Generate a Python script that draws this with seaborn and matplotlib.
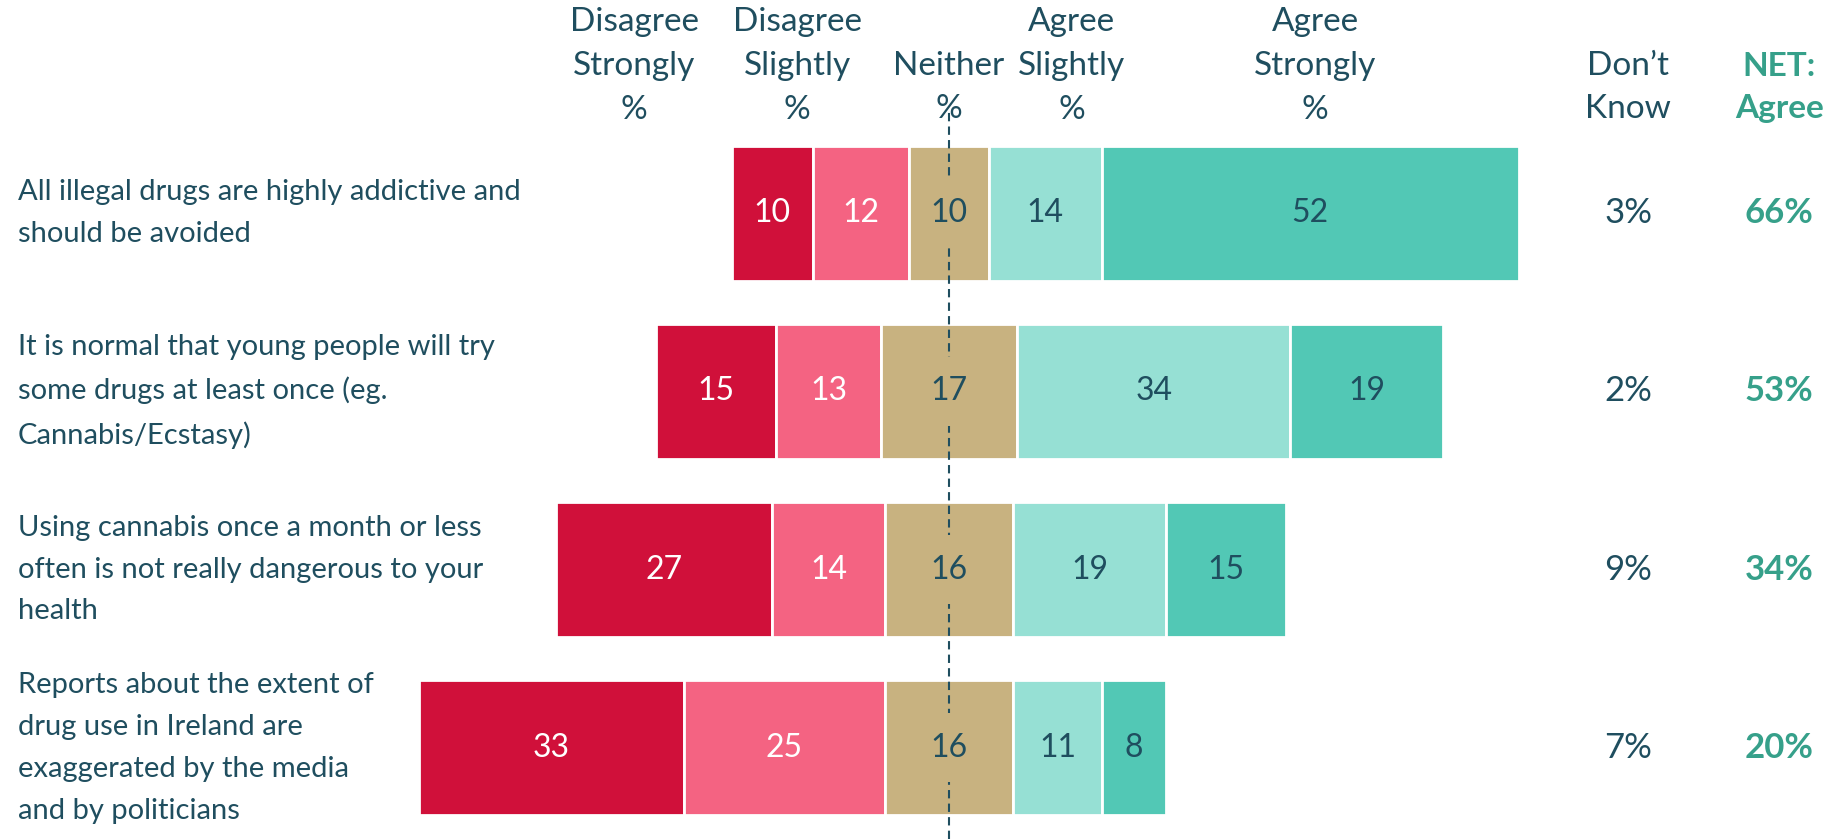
import matplotlib
matplotlib.use('Agg')
import matplotlib.pyplot as plt
import seaborn as sns
import numpy as np

# dados
statements = [
    'All illegal drugs are highly addictive and\nshould be avoided',
    'It is normal that young people will try\nsome drugs at least once (eg.\nCannabis/Ecstasy)',
    'Using cannabis once a month or less\noften is not really dangerous to your\nhealth',
    'Reports about the extent of\ndrug use in Ireland are\nexaggerated by the media\nand by politicians',
]
disagree_strongly = [10, 15, 27, 33]
disagree_slightly = [12, 13, 14, 25]
neither = [10, 17, 16, 16]
agree_slightly = [14, 34, 19, 11]
agree_strongly = [52, 19, 15, 8]
dont_know = [3, 2, 9, 7]
net_agree = [66, 53, 34, 20]

headers = ['Disagree\nStrongly\n%', 'Disagree\nSlightly\n%', 'Neither\n%',
           'Agree\nSlightly\n%', 'Agree\nStrongly\n%']
header_x = [-39.2, -18.9, 0, 15.3, 45.6]

cores = ['#D0103A', '#F46382', '#C8B280', '#96E0D4', '#52C8B5']
cor_texto = '#1F4E5F'
cor_net = '#36A08A'

sns.set_theme(style='white')
plt.rcParams['font.family'] = ['Lato', 'DejaVu Sans']

fig = plt.figure(figsize=(18.41, 8.39), dpi=100)
ax = fig.add_axes([0, 0, 1, 1])

segmentos = np.array([disagree_strongly, disagree_slightly, neither,
                      agree_slightly, agree_strongly], dtype=float)
# barras divergentes centradas no meio do "Neither"
inicio = -(segmentos[0] + segmentos[1] + segmentos[2] / 2)
esquerda = inicio.copy()

for k, valores in enumerate(segmentos):
    sns.barplot(x=valores, y=statements, left=esquerda, color=cores[k], orient='h',
                width=0.757, edgecolor='white', linewidth=2, saturation=1,
                errorbar=None, ax=ax, zorder=2)
    for i, v in enumerate(valores):
        cor = 'white' if k < 2 else cor_texto
        bbox = dict(facecolor=cores[k], edgecolor='none', pad=14) if k == 2 else None
        ax.text(esquerda[i] + v / 2, i, f'{int(v)}', ha='center', va='center',
                fontsize=23, color=cor, zorder=5, bbox=bbox)
    esquerda = esquerda + valores

# linha tracejada central
ax.axvline(0, ymin=0, ymax=0.866, color=cor_texto, lw=1.5,
           linestyle=(0, (4, 2.5)), zorder=4)

ax.set_xlim(-118.2, 111.1)
ax.set_ylim(3.511, -1.195)
ax.axis('off')

# rotulos da esquerda
for i, s in enumerate(statements):
    ax.text(-116, i, s, ha='left', va='center', fontsize=21, color=cor_texto,
            linespacing=1.75)

# cabecalhos
for h, x in zip(headers, header_x):
    y = -0.704 if h.count('\n') == 1 else -0.824
    ax.text(x, y, h, ha='center', va='center', fontsize=24, color=cor_texto,
            linespacing=1.58)
ax.text(84.6, -0.704, 'Don\u2019t\nKnow', ha='center', va='center', fontsize=24,
        color=cor_texto, linespacing=1.58)
ax.text(103.4, -0.704, 'NET:\nAgree', ha='center', va='center', fontsize=24,
        color=cor_net, fontweight='bold', linespacing=1.58)

for i in range(len(statements)):
    ax.text(84.6, i, f'{dont_know[i]}%', ha='center', va='center', fontsize=25,
            color=cor_texto)
    ax.text(103.4, i, f'{net_agree[i]}%', ha='center', va='center', fontsize=25,
            color=cor_net, fontweight='bold')

fig.savefig('out.png', dpi=100, facecolor='white')
